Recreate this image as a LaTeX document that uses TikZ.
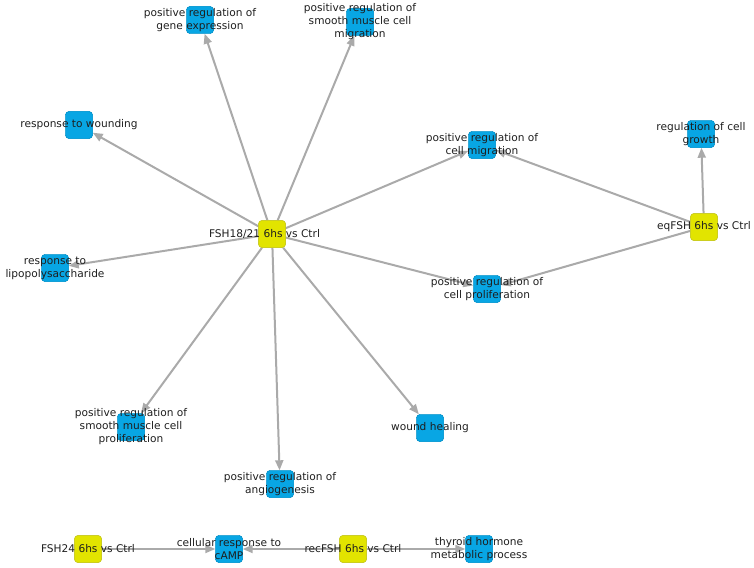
\documentclass[tikz,border=0pt]{standalone}
\usepackage{fontspec}
\setmainfont{DejaVu Sans}
\usetikzlibrary{arrows.meta}
\definecolor{termblue}{RGB}{8,166,228}
\definecolor{condyellow}{RGB}{226,228,0}
\definecolor{edgegray}{RGB}{170,170,170}
\definecolor{labtext}{RGB}{30,30,30}
\tikzset{
  termbox/.style={rectangle, rounded corners=3.5pt, minimum size=27pt, inner sep=0pt, fill=termblue, draw=termblue!85!black, line width=0.4pt},
  condbox/.style={rectangle, rounded corners=3.5pt, minimum size=27pt, inner sep=0pt, fill=condyellow, draw=condyellow!70!gray, line width=0.5pt},
  lab/.style={inner sep=0pt, align=center, text=labtext, font=\fontsize{10.6}{13}\selectfont},
  edgeline/.style={draw=edgegray, line width=2pt, -{Triangle[length=10pt,width=8pt]}}
}
\begin{document}
\begin{tikzpicture}[x=1pt,y=-1pt]
\useasboundingbox (0,0) rectangle (754,567);
% nodes
\node[condbox] (fsh1821) at (272,234) {};
\node[condbox] (eqfsh) at (704,227) {};
\node[condbox] (fsh24) at (88,549) {};
\node[condbox] (recfsh) at (353,549) {};
\node[termbox] (geneexp) at (200,20) {};
\node[termbox] (smmig) at (360,22) {};
\node[termbox] (wounding) at (79,125) {};
\node[termbox] (lps) at (55,268) {};
\node[termbox] (cellmig) at (482,145) {};
\node[termbox] (cellprol) at (487,289) {};
\node[termbox] (growth) at (701,134) {};
\node[termbox] (smprol) at (131,427) {};
\node[termbox] (angio) at (280,484) {};
\node[termbox] (healing) at (430,428) {};
\node[termbox] (camp) at (229,549) {};
\node[termbox] (thyroid) at (479,549) {};
% edges
\path[edgeline] (fsh1821) -- (geneexp);
\path[edgeline] (fsh1821) -- (smmig);
\path[edgeline] (fsh1821) -- (wounding);
\path[edgeline] (fsh1821) -- (lps);
\path[edgeline] (fsh1821) -- (cellmig);
\path[edgeline] (fsh1821) -- (cellprol);
\path[edgeline] (fsh1821) -- (smprol);
\path[edgeline] (fsh1821) -- (angio);
\path[edgeline] (fsh1821) -- (healing);
\path[edgeline] (eqfsh) -- (cellmig);
\path[edgeline] (eqfsh) -- (cellprol);
\path[edgeline] (eqfsh) -- (growth);
\path[edgeline] (fsh24) -- (camp);
\path[edgeline] (recfsh) -- (camp);
\path[edgeline] (recfsh) -- (thyroid);
% redraw nodes over edges
\foreach \n in {fsh1821,eqfsh,fsh24,recfsh}{
  \node[condbox] at (\n.center) {};
}
\foreach \n in {geneexp,smmig,wounding,lps,cellmig,cellprol,growth,smprol,angio,healing,camp,thyroid}{
  \node[termbox] at (\n.center) {};
}
% labels
\node[lab] (lfsh1821) at ([xshift=-7.5pt]fsh1821.center) {FSH18/21 6hs vs Ctrl};
\node[lab] (leqfsh) at (eqfsh) {eqFSH 6hs vs Ctrl};
\node[lab] (lfsh24) at (fsh24) {FSH24 6hs vs Ctrl};
\node[lab] (lrecfsh) at (recfsh) {recFSH 6hs vs Ctrl};
\node[lab] (lgeneexp) at (geneexp) {positive regulation of\\gene expression};
\node[lab] (lsmmig) at (smmig) {positive regulation of\\smooth muscle cell\\migration};
\node[lab] (lwounding) at (wounding) {response to wounding};
\node[lab] (llps) at (lps) {response to\\lipopolysaccharide};
\node[lab] (lcellmig) at (cellmig) {positive regulation of\\cell migration};
\node[lab] (lcellprol) at (cellprol) {positive regulation of\\cell proliferation};
\node[lab] (lgrowth) at (growth) {regulation of cell\\growth};
\node[lab] (lsmprol) at (smprol) {positive regulation of\\smooth muscle cell\\proliferation};
\node[lab] (langio) at (angio) {positive regulation of\\angiogenesis};
\node[lab] (lhealing) at (healing) {wound healing};
\node[lab] (lcamp) at (camp) {cellular response to\\cAMP};
\node[lab] (lthyroid) at (thyroid) {thyroid hormone\\metabolic process};
\end{tikzpicture}
\end{document}
